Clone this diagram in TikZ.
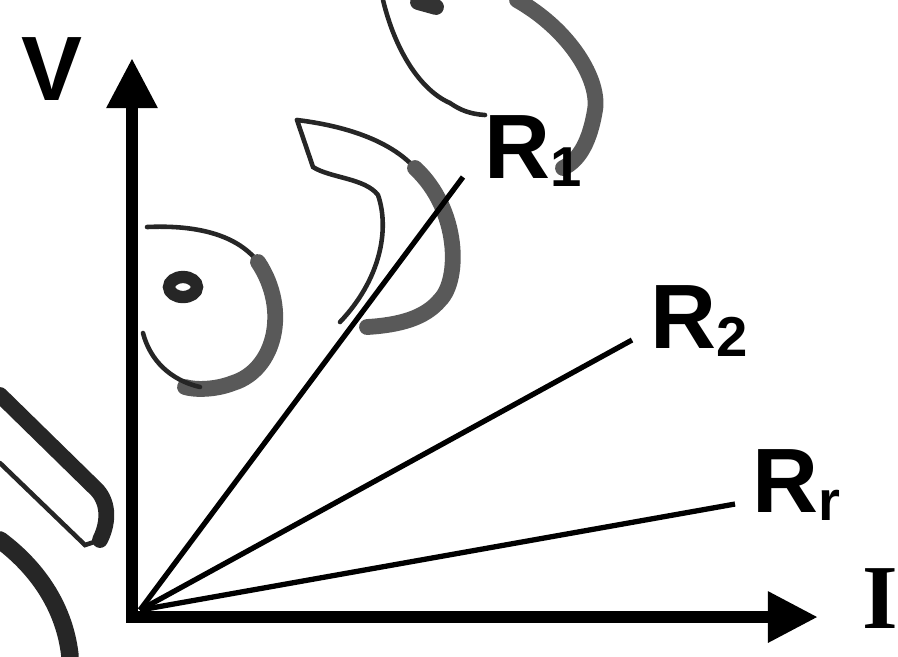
\documentclass[tikz,border=0pt]{standalone}
\usepackage{fontspec}
\setmainfont{Liberation Sans}
\newfontfamily\serifI{Liberation Serif}
\usetikzlibrary{arrows.meta}
\newcommand{\lo}[1]{\raisebox{-2.3pt}{\fontsize{16}{16}\selectfont #1}}
\begin{document}
\begin{tikzpicture}[x=0.01cm,y=-0.01cm,
  axis/.style={line width=3.4pt,line cap=rect,-{Triangle[length=0.5cm,width=0.48cm]}},
  ray/.style={line width=1.5pt},
  lbl/.style={font=\fontsize{26}{30}\selectfont\bfseries,inner sep=0pt},
  ghost/.style={draw=black!85,line width=1.3pt,line cap=round},
  smear/.style={draw=black!65,line width=4.5pt,line cap=round}]
\useasboundingbox (0,0) rectangle (898,656);
% show-through from the other side of the page
\draw[ghost] (383,0) .. controls (395,50) and (420,90) .. (450,103) .. controls (460,110) and (470,114) .. (485,115);
\draw[smear,draw=black!80] (418,2) -- (436,7);
\draw[smear] (517,0) .. controls (570,30) and (600,80) .. (595,110) .. controls (590,140) and (580,160) .. (563,168);
\draw[ghost] (297,120) .. controls (330,124) and (385,135) .. (415,168);
\draw[ghost] (297,120) -- (313,167) .. controls (330,178) and (365,178) .. (378,195) .. controls (390,230) and (380,280) .. (340,322);
\draw[smear] (415,168) .. controls (460,210) and (460,280) .. (440,300) .. controls (425,318) and (400,325) .. (367,327);
\draw[ghost] (147,227) .. controls (190,225) and (235,232) .. (258,262);
\draw[smear] (258,262) .. controls (290,310) and (275,370) .. (233,383) .. controls (215,390) and (195,390) .. (185,387);
\draw[ghost] (200,387) .. controls (170,380) and (150,360) .. (143,333);
\draw[ghost,line width=3.5pt] (183,287) ellipse [x radius=14,y radius=10];
\draw[smear,draw=black!85] (0,395) -- (95,488) .. controls (108,500) and (110,520) .. (100,540);
\draw[ghost] (100,540) -- (85,545) -- (0,463);
\draw[smear,draw=black!85,line width=5pt] (0,540) .. controls (40,570) and (65,610) .. (70,656);
% axes and lines
\coordinate (O) at (132,617);
\coordinate (vtop) at (132,58);
\coordinate (itip) at (818,617);
\coordinate (e1) at (463,177);
\coordinate (e2) at (632,340);
\coordinate (er) at (735,504);
\draw[axis] (O) -- (vtop);
\draw[axis] (O) -- (itip);
\draw[ray] (140,610) -- (e1);
\draw[ray] (140,610) -- (e2);
\draw[ray] (140,610) -- (er);
\node[lbl,anchor=base] (V) at (52,100) {V};
\node[lbl,anchor=base] (I) at (880,628) {\serifI I};
\node[lbl,anchor=base west] (r1) at (484,178) {R\lo{1}};
\node[lbl,anchor=base west] (r2) at (650,348) {R\lo{2}};
\node[lbl,anchor=base west] (rr) at (752,512) {R\lo{r}};
\end{tikzpicture}
\end{document}
